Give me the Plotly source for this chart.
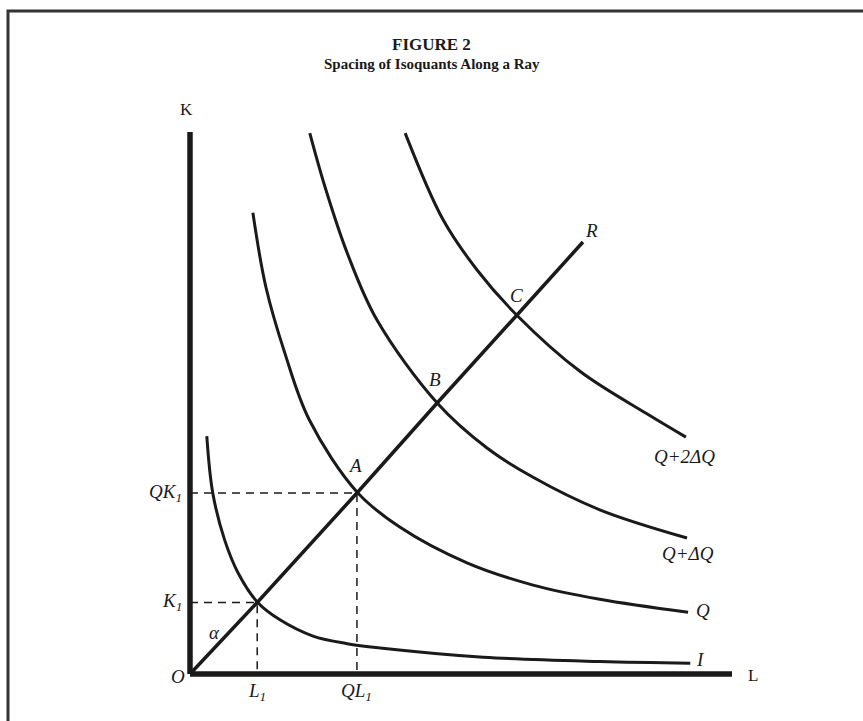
import plotly.graph_objects as go

# ---- data (units of L and K) ----
axis_len = [0, 10]

ray_L = [0, 1.24, 3.08, 4.56, 6.03, 7.25]
ray_K = [0, 1.32, 3.34, 5.00, 6.62, 7.97]

iso_I_L = [0.31, 0.42, 0.64, 0.89, 1.25, 1.66, 2.27, 2.90, 3.51, 5.41, 7.56, 9.23]
iso_I_K = [4.39, 3.34, 2.47, 1.86, 1.32, 1.00, 0.70, 0.56, 0.48, 0.31, 0.23, 0.20]

iso_Q_L = [1.16, 1.40, 1.75, 2.20, 3.08, 3.87, 5.11, 6.33, 7.56, 9.19]
iso_Q_K = [8.51, 7.14, 5.92, 4.69, 3.36, 2.71, 2.05, 1.64, 1.38, 1.14]

iso_Q1_L = [2.21, 2.49, 2.90, 3.45, 4.56, 5.48, 6.33, 7.56, 9.17]
iso_Q1_K = [9.98, 8.99, 7.77, 6.53, 5.00, 4.17, 3.63, 3.03, 2.51]

iso_Q2_L = [3.97, 4.67, 5.30, 6.03, 7.20, 8.43, 9.15]
iso_Q2_K = [9.98, 8.38, 7.45, 6.62, 5.58, 4.80, 4.37]

L1, K1 = 1.24, 1.32
QL1, QK1 = 3.08, 3.34

# ---- figure ----
fig = go.Figure()
black = "#1a1a1a"

def line(x, y, w, dash="solid", shape="linear"):
    fig.add_trace(go.Scatter(x=x, y=y, mode="lines", hoverinfo="skip",
                             line=dict(color=black, width=w, dash=dash, shape=shape,
                                       smoothing=1.0)))

# axes
line([0, 0], axis_len, 5.5)
line(axis_len, [0, 0], 5.5)

# dashed guides
line([0, L1, L1], [K1, K1, 0], 1.5, dash="8px,6px")
line([0, QL1, QL1], [QK1, QK1, 0], 1.5, dash="8px,6px")

# ray
line(ray_L, ray_K, 3.5)

# isoquants
for xs, ys in [(iso_I_L, iso_I_K), (iso_Q_L, iso_Q_K), (iso_Q1_L, iso_Q1_K), (iso_Q2_L, iso_Q2_K)]:
    line(xs, ys, 3, shape="spline")

serif = "Liberation Serif"
ital = dict(family=serif, size=19, color=black, style="italic")
up = dict(family=serif, size=17, color=black)
ann = []
def txt(x, y, t, xanchor="center", font=None, yanchor="middle"):
    ann.append(dict(x=x, y=y, xref="x", yref="y", text=t, showarrow=False,
                    xanchor=xanchor, yanchor=yanchor, font=font or ital))

txt(-0.06, 10.41, "K", font=up)
txt(10.39, -0.02, "L", font=up)
txt(-0.05, -0.04, "O", xanchor="right")
txt(-0.12, K1, "K<sub>1</sub>", xanchor="right")
txt(-0.12, QK1, "QK<sub>1</sub>", xanchor="right")
txt(L1, -0.33, "L<sub>1</sub>")
txt(QL1, -0.33, "QL<sub>1</sub>")
txt(0.46, 0.77, "α")
txt(3.04, 3.84, "A")
txt(4.52, 5.44, "B")
txt(6.03, 6.98, "C")
txt(7.40, 8.19, "R")
txt(9.13, 4.02, "Q+2ΔQ")
txt(9.19, 2.23, "Q+ΔQ")
txt(9.30, 1.18, "Q", xanchor="left")
txt(9.30, 0.27, "I", xanchor="left")

# title
ann.append(dict(x=0.5, y=1 - 45 / 721, xref="paper", yref="paper", showarrow=False,
                text="FIGURE 2", font=dict(family=serif, size=17, color=black, weight="bold"),
                xanchor="center", yanchor="middle"))
ann.append(dict(x=0.5, y=1 - 64 / 721, xref="paper", yref="paper", showarrow=False,
                text="Spacing of Isoquants Along a Ray",
                font=dict(family=serif, size=15, color=black, weight="bold"),
                xanchor="center", yanchor="middle"))

s = 54.2
ox, oy = 190, 674
fig.update_layout(
    width=863, height=721,
    margin=dict(l=0, r=0, t=0, b=0),
    paper_bgcolor="white", plot_bgcolor="white",
    showlegend=False,
    xaxis=dict(range=[-ox / s, (863 - ox) / s], visible=False, fixedrange=True),
    yaxis=dict(range=[(oy - 721) / s, oy / s], visible=False, fixedrange=True),
    annotations=ann,
    shapes=[dict(type="rect", xref="paper", yref="paper",
                 x0=8 / 863, x1=1.02, y0=-0.02, y1=1 - 11 / 721,
                 line=dict(color="#333333", width=3), layer="above")],
)

fig.write_html("out.html", config={"displayModeBar": False},
               post_script="document.body.style.margin='0';document.body.style.overflow='hidden';")
